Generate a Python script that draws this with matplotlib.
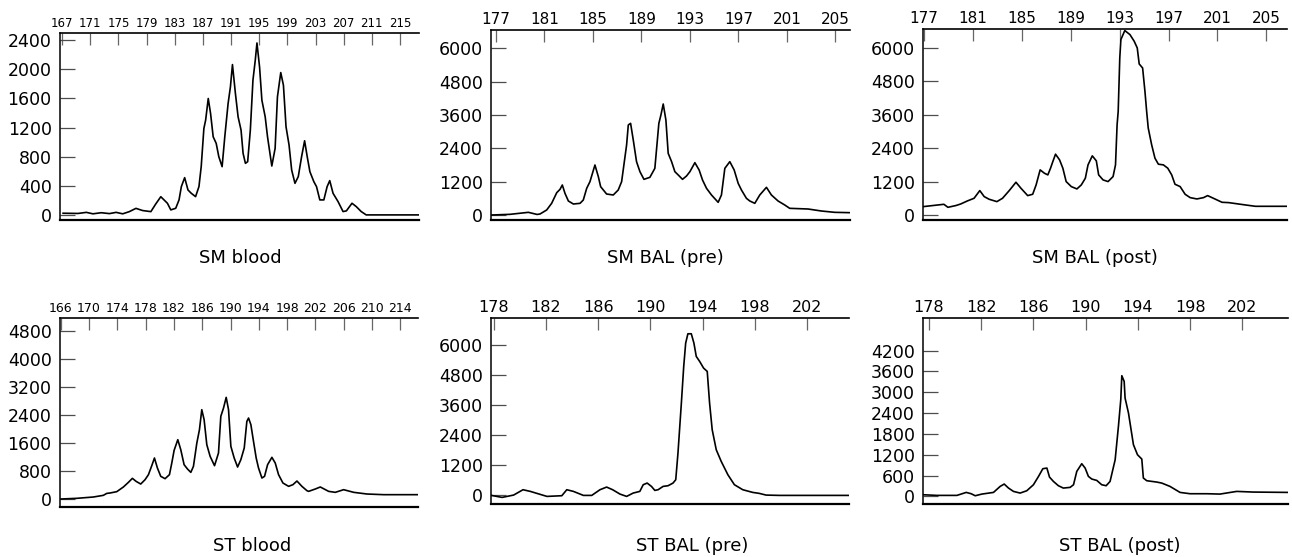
import matplotlib
matplotlib.use("Agg")
import matplotlib.pyplot as plt

W, H = 1292, 557

# SM blood
sm_blood_x = [167.14, 169.26, 170.44, 171.38, 172.55, 173.73, 174.67, 175.61, 176.55, 177.49, 178.44,
              179.61, 180.3, 181.02, 181.96, 182.44, 183.14, 183.61, 183.94, 184.41, 184.88, 185.35,
              185.96, 186.44, 186.76, 187.14, 187.39, 187.76, 188.09, 188.46, 188.89, 189.26, 189.73,
              190.11, 190.58, 190.91, 191.2, 191.62, 192.0, 192.42, 192.71, 193.04, 193.36, 193.74,
              194.11, 194.44, 194.68, 195.05, 195.38, 195.85, 196.18, 196.79, 197.26, 197.59, 198.06,
              198.44, 198.81, 199.24, 199.61, 200.08, 200.55, 201.02, 201.45, 201.82, 202.2, 202.76,
              203.14, 203.61, 204.18, 204.65, 205.02, 205.49, 206.2, 206.91, 207.38, 208.18, 208.79,
              209.49, 210.2, 217.7]
sm_blood_y = [23, 20, 35, 15, 30, 18, 35, 15, 45, 90, 60,
              45, 150, 250, 160, 69, 91, 206, 389, 512, 343, 297,
              251, 389, 663, 1188, 1303, 1600, 1394, 1074, 983, 800, 663,
              1074, 1531, 1760, 2066, 1668, 1348, 1166, 846, 709, 731, 1166,
              1851, 2126, 2363, 2034, 1577, 1348, 1074, 672, 914, 1623, 1956,
              1783, 1211, 960, 617, 434, 526, 800, 1019, 800, 594, 457,
              389, 206, 206, 389, 471, 297, 183, 46, 55, 160, 114,
              46, 0, 0]

# SM BAL (pre)
sm_pre_x = [176.66, 178.17, 179.68, 180.4, 180.64, 181.19, 181.6, 182.02, 182.29, 182.48, 182.7,
            182.98, 183.39, 183.94, 184.21, 184.49, 184.76, 185.17, 185.45, 185.64, 186.13, 186.68,
            187.09, 187.37, 187.78, 187.92, 188.11, 188.33, 188.6, 188.88, 189.21, 189.7, 190.11,
            190.44, 190.61, 190.8, 191.02, 191.21, 191.49, 191.76, 192.04, 192.39, 192.72, 193.0,
            193.41, 193.76, 194.04, 194.37, 194.78, 195.33, 195.6, 195.88, 196.29, 196.65, 196.98,
            197.25, 197.66, 197.94, 198.35, 198.76, 199.31, 199.72, 200.27, 200.82, 201.23, 202.74,
            203.84, 204.94, 206.17]
sm_pre_y = [0, 24, 96, 20, 36, 180, 420, 804, 924, 1080, 780,
            504, 396, 420, 540, 960, 1200, 1800, 1380, 1020, 756, 720,
            900, 1200, 2520, 3240, 3300, 2700, 1920, 1560, 1284, 1356, 1680,
            3300, 3600, 3996, 3420, 2220, 1920, 1560, 1440, 1284, 1404, 1560,
            1884, 1620, 1260, 960, 720, 456, 720, 1680, 1920, 1620, 1140,
            900, 600, 504, 420, 720, 996, 720, 504, 360, 240, 216,
            144, 96, 84]

# SM BAL (post)
sm_post_x = [176.91, 178.61, 178.94, 179.6, 179.99, 180.53, 181.08, 181.55, 181.91, 182.32, 182.95,
             183.41, 183.96, 184.51, 184.92, 185.47, 185.88, 186.16, 186.49, 186.84, 187.12, 187.34,
             187.53, 187.75, 188.08, 188.35, 188.62, 189.04, 189.5, 189.86, 190.19, 190.41, 190.76,
             191.09, 191.28, 191.64, 192.05, 192.46, 192.66, 192.79, 192.88, 193.01, 193.1, 193.42,
             193.84, 194.19, 194.44, 194.6, 194.88, 195.07, 195.21, 195.34, 195.62, 195.89, 196.17,
             196.58, 196.94, 197.26, 197.53, 197.95, 198.36, 198.77, 199.32, 199.87, 200.2, 200.56,
             201.38, 201.93, 203.3, 204.12, 206.73]
sm_post_y = [300, 384, 276, 340, 396, 504, 600, 876, 660, 564, 480,
             600, 876, 1176, 960, 696, 744, 1080, 1620, 1500, 1440, 1680,
             1920, 2184, 1980, 1680, 1200, 1020, 936, 1080, 1320, 1800, 2124,
             1944, 1440, 1260, 1200, 1380, 1800, 3240, 3720, 5640, 6300, 6624,
             6480, 6240, 6000, 5424, 5280, 4440, 3720, 3120, 2520, 2040, 1824,
             1800, 1680, 1440, 1104, 1020, 744, 624, 576, 624, 696, 624,
             456, 444, 360, 312, 312]

# ST blood
st_blood_x = [166.04, 168.25, 170.61, 172.03, 172.5, 172.97, 173.92, 174.86, 175.57, 176.13, 176.65,
              177.31, 177.92, 178.4, 178.87, 179.25, 179.67, 180.14, 180.75, 181.37, 181.7, 182.03,
              182.55, 182.97, 183.44, 183.92, 184.39, 184.76, 185.24, 185.61, 185.94, 186.27, 186.65,
              187.12, 187.74, 188.3, 188.63, 189.01, 189.39, 189.72, 190.05, 190.52, 191.0, 191.46,
              191.94, 192.31, 192.55, 192.88, 193.25, 193.63, 193.96, 194.44, 194.81, 195.24, 195.85,
              196.32, 196.79, 197.41, 198.21, 198.82, 199.39, 200.09, 200.8, 201.04, 201.98, 202.69,
              203.87, 204.81, 205.99, 207.41, 209.29, 211.65, 216.6]
st_blood_y = [0, 19, 57, 105, 160, 172, 210, 344, 477, 592, 506,
              429, 553, 697, 954, 1174, 887, 649, 582, 697, 1031, 1393,
              1699, 1412, 983, 859, 763, 935, 1603, 1985, 2558, 2271, 1555,
              1221, 954, 1317, 2367, 2605, 2911, 2558, 1508, 1174, 916, 1126,
              1460, 2223, 2319, 2128, 1651, 1174, 887, 601, 649, 983, 1193,
              1031, 697, 458, 363, 410, 515, 363, 239, 219, 286, 344,
              219, 191, 267, 191, 143, 124, 124]

# ST BAL (pre)
st_pre_x = [177.83, 178.65, 179.53, 180.25, 180.81, 182.08, 183.22, 183.6, 184.11, 184.87, 185.51,
            186.14, 186.65, 187.11, 187.67, 188.18, 188.68, 189.19, 189.45, 189.75, 190.08, 190.34,
            190.59, 190.97, 191.35, 191.73, 191.94, 192.11, 192.37, 192.55, 192.7, 192.87, 193.13,
            193.33, 193.51, 193.77, 194.07, 194.35, 194.53, 194.73, 195.04, 195.42, 195.93, 196.43,
            197.07, 197.83, 198.34, 198.85, 199.87, 205.15]
st_pre_y = [0, -80, 13, 227, 160, -40, -13, 227, 160, 0, 0,
            227, 333, 227, 53, -40, 93, 160, 427, 493, 360, 200,
            227, 360, 387, 493, 627, 1693, 3693, 5159, 6092, 6465, 6465,
            6092, 5559, 5359, 5092, 4959, 3692, 2626, 1826, 1360, 826, 427,
            227, 120, 80, 13, 0, 0]

# ST BAL (post)
st_post_x = [177.54, 178.61, 180.14, 180.85, 181.23, 181.54, 182.05, 182.94, 183.45, 183.76, 184.09,
             184.47, 184.98, 185.49, 186.0, 186.39, 186.72, 187.03, 187.23, 187.53, 187.91, 188.29,
             188.81, 189.07, 189.32, 189.7, 189.96, 190.21, 190.47, 190.85, 191.23, 191.57, 191.87,
             192.26, 192.51, 192.69, 192.77, 192.95, 193.02, 193.28, 193.48, 193.66, 193.97, 194.3,
             194.42, 194.68, 195.45, 195.83, 196.46, 197.23, 198.0, 199.27, 200.29, 201.57, 202.84,
             205.52]
st_post_y = [48, 29, 29, 115, 77, 19, 67, 115, 288, 356, 240,
             144, 96, 163, 336, 577, 798, 817, 557, 432, 308, 240,
             260, 336, 721, 942, 817, 577, 500, 461, 336, 308, 432,
             1057, 2018, 2787, 3479, 3316, 2835, 2403, 1922, 1490, 1201, 1076,
             529, 452, 413, 384, 288, 115, 77, 77, 67, 144, 125,
             115]

# tick values and titles
sm_blood_ticks = list(range(167, 216, 4))
sm_bal_ticks = list(range(177, 206, 4))
st_blood_ticks = list(range(166, 215, 4))
st_bal_ticks = list(range(178, 203, 4))

titles = ["SM blood", "SM BAL (pre)", "SM BAL (post)", "ST blood", "ST BAL (pre)", "ST BAL (post)"]

# (left, top, right, bottom) in pixels, xlim, ylim, xticks, yticks, x tick size, title centre
panels = [
    ((60, 33, 419, 220), (166.7, 217.7), (-70, 2500), sm_blood_ticks,
     range(0, 2401, 400), 8.5, (240, 258), sm_blood_x, sm_blood_y),
    ((491, 30, 850, 220), (176.6, 206.2), (-180, 6660), sm_bal_ticks,
     range(0, 6001, 1200), 11, (665, 258), sm_pre_x, sm_pre_y),
    ((923, 29, 1287, 220), (176.9, 206.7), (-180, 6680), sm_bal_ticks,
     range(0, 6001, 1200), 11, (1095, 258), sm_post_x, sm_post_y),
    ((60, 318, 418, 507), (165.9, 216.5), (-229, 5184), st_blood_ticks,
     range(0, 4801, 800), 9, (252, 546), st_blood_x, st_blood_y),
    ((491, 318, 849, 504), (177.8, 205.2), (-344, 7096), st_bal_ticks,
     range(0, 6001, 1200), 11.5, (692, 546), st_pre_x, st_pre_y),
    ((923, 318, 1288, 504), (177.54, 205.5), (-219, 5142), st_bal_ticks,
     range(0, 4201, 600), 11.5, (1120, 546), st_post_x, st_post_y),
]

fig = plt.figure(figsize=(W / 100, H / 100), dpi=100)

for (l, t, r, b), xl, yl, xt, yt, xfs, (tx, ty), xs, ys in panels:
    ax = fig.add_axes([l / W, 1 - b / H, (r - l) / W, (b - t) / H])
    ax.plot(xs, ys, color="black", lw=1.2, solid_joinstyle="round")
    ax.set_xlim(*xl)
    ax.set_ylim(*yl)
    ax.set_xticks(xt)
    ax.set_yticks(list(yt))
    ax.xaxis.set_ticks_position("top")
    ax.tick_params(axis="x", direction="in", length=8.5, width=0.9, color="0.4",
                   labelsize=xfs, pad=2.5)
    ax.tick_params(axis="y", direction="in", length=10.5, width=0.9, color="0.3",
                   labelsize=12.5, pad=6)
    ax.spines["right"].set_visible(False)
    ax.spines["top"].set_linewidth(1.2)
    ax.spines["left"].set_linewidth(1.1)
    ax.spines["bottom"].set_linewidth(1.6)
    fig.text(tx / W, 1 - ty / H, titles.pop(0), ha="center", va="center", fontsize=13)

fig.savefig("out.png", dpi=100)
